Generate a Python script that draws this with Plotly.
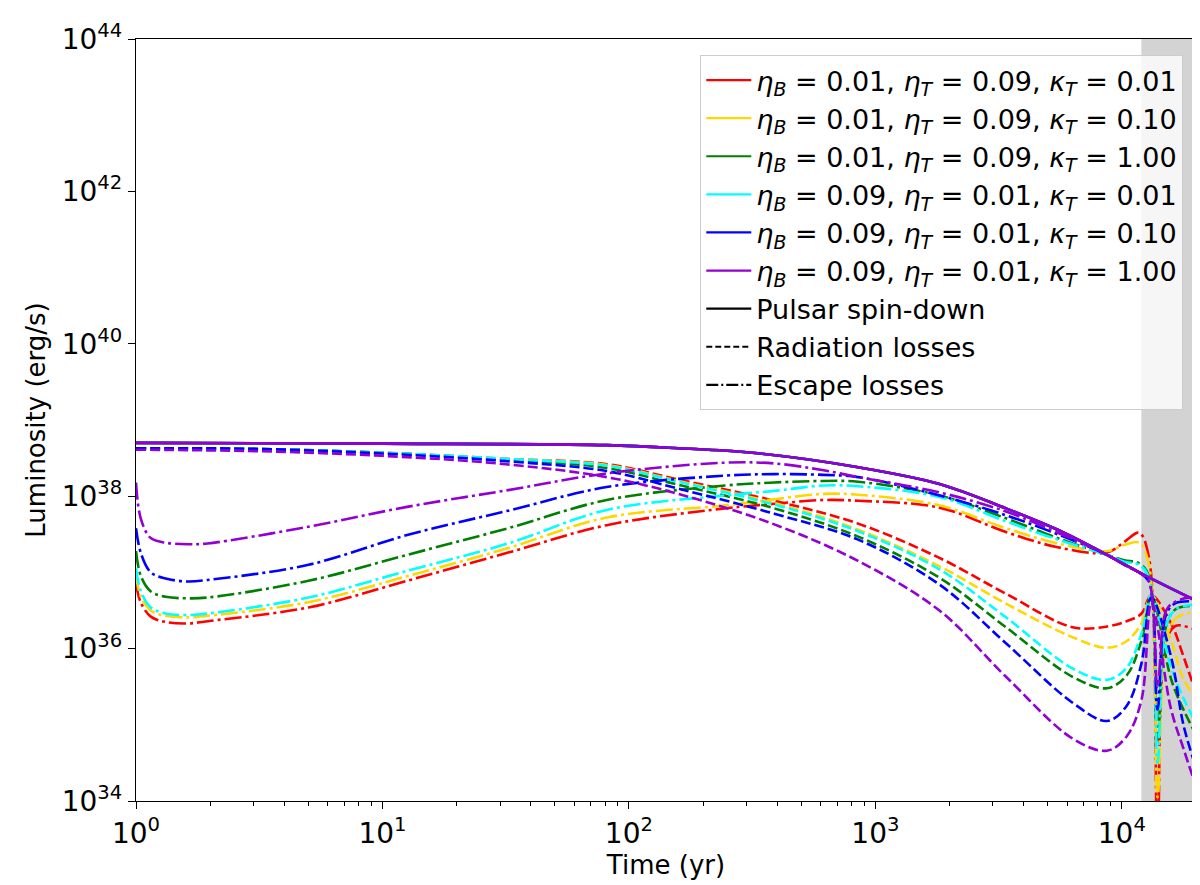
import numpy as np
import plotly.graph_objects as go

# colours of the six parameter sets (matplotlib names)
colors = ["red", "gold", "green", "cyan", "blue", "darkviolet"]
labels = [
    "<i>η</i><sub><i>B</i></sub> = 0.01, <i>η</i><sub><i>T</i></sub> = 0.09, <i>κ</i><sub><i>T</i></sub> = 0.01",
    "<i>η</i><sub><i>B</i></sub> = 0.01, <i>η</i><sub><i>T</i></sub> = 0.09, <i>κ</i><sub><i>T</i></sub> = 0.10",
    "<i>η</i><sub><i>B</i></sub> = 0.01, <i>η</i><sub><i>T</i></sub> = 0.09, <i>κ</i><sub><i>T</i></sub> = 1.00",
    "<i>η</i><sub><i>B</i></sub> = 0.09, <i>η</i><sub><i>T</i></sub> = 0.01, <i>κ</i><sub><i>T</i></sub> = 0.01",
    "<i>η</i><sub><i>B</i></sub> = 0.09, <i>η</i><sub><i>T</i></sub> = 0.01, <i>κ</i><sub><i>T</i></sub> = 0.10",
    "<i>η</i><sub><i>B</i></sub> = 0.09, <i>η</i><sub><i>T</i></sub> = 0.01, <i>κ</i><sub><i>T</i></sub> = 1.00",
]

# everything below is log10(time / yr) and log10(L / erg s^-1)

# pulsar spin-down (same for all runs)
logt_spin = [0, 1, 1.91, 2.2, 2.5, 2.93, 3.26, 3.53, 3.74, 3.94, 4.1, 4.3]
logL_spin = [38.70, 38.69, 38.67, 38.63, 38.57, 38.38, 38.16, 37.84, 37.56, 37.23, 36.95, 36.63]

# radiation losses (dashed)
logt_rad = [0, 0.5, 1, 1.5, 1.91, 2.2, 2.59, 2.93, 3.26, 3.53, 3.80, 3.94, 4.02, 4.08, 4.12, 4.20, 4.25, 4.30]
rad_red =    [38.63, 38.62, 38.57, 38.49, 38.42, 38.22, 37.94, 37.64, 37.19, 36.72, 36.28, 36.29, 36.36, 36.46, 36.70, 36.33, 35.90, 35.42]
rad_yellow = [38.63, 38.62, 38.57, 38.49, 38.41, 38.20, 37.91, 37.56, 37.08, 36.59, 36.15, 36.01, 36.10, 36.33, 36.70, 36.10, 35.60, 35.35]
rad_green =  [38.63, 38.62, 38.57, 38.48, 38.37, 38.15, 37.84, 37.47, 36.93, 36.28, 35.63, 35.48, 35.65, 36.11, 36.70, 35.60, 35.20, 34.88]
rad_cyan =   [38.63, 38.62, 38.57, 38.49, 38.40, 38.19, 37.89, 37.54, 37.04, 36.41, 35.74, 35.59, 35.75, 36.20, 36.70, 35.75, 35.35, 35.03]
rad_blue =   [38.63, 38.62, 38.56, 38.46, 38.33, 38.10, 37.77, 37.43, 36.84, 36.07, 35.29, 35.05, 35.25, 35.81, 36.67, 35.89, 35.00, 34.45]
rad_purple = [38.61, 38.59, 38.53, 38.42, 38.25, 38.03, 37.63, 37.15, 36.50, 35.63, 34.82, 34.66, 34.85, 35.33, 36.60, 35.20, 34.69, 34.20]

# escape losses (dash-dot)
logt_esc = [0, 0.02, 0.06, 0.12, 0.21, 0.29, 0.70, 1.10, 1.51, 1.91, 2.39, 2.59, 2.79, 2.93, 3.26, 3.53,
            3.74, 3.94, 4.01, 4.07, 4.11, 4.145, 4.18, 4.22, 4.299, 4.30]
esc_red =    [36.85, 36.60, 36.42, 36.35, 36.33, 36.36, 36.54, 36.89, 37.26, 37.62, 37.84, 37.90, 37.95, 37.94, 37.85, 37.53,
              37.33, 37.26, 37.40, 37.52, 37.20, 33.50, 36.10, 36.30, 36.25, 36.25]
esc_yellow = [36.98, 36.68, 36.50, 36.43, 36.41, 36.43, 36.61, 36.95, 37.32, 37.72, 37.88, 37.96, 38.03, 38.02, 37.88, 37.58,
              37.38, 37.28, 37.36, 37.39, 37.10, 34.05, 36.10, 36.40, 36.48, 36.48]
esc_green =  [37.28, 36.95, 36.75, 36.68, 36.66, 36.67, 36.89, 37.23, 37.58, 37.95, 38.14, 38.18, 38.20, 38.19, 38.01, 37.71,
              37.45, 37.23, 37.16, 37.12, 36.95, 34.80, 36.30, 36.52, 36.56, 36.56]
esc_cyan =   [37.06, 36.75, 36.54, 36.46, 36.44, 36.46, 36.67, 37.02, 37.38, 37.82, 38.01, 38.07, 38.14, 38.13, 37.99, 37.67,
              37.43, 37.23, 37.14, 37.10, 36.93, 34.50, 36.30, 36.52, 36.58, 36.58]
esc_blue =   [37.58, 37.25, 37.00, 36.92, 36.88, 36.90, 37.10, 37.49, 37.81, 38.12, 38.27, 38.29, 38.28, 38.25, 38.01, 37.75,
              37.50, 37.23, 37.10, 37.00, 36.88, 35.20, 36.45, 36.60, 36.62, 36.62]
esc_purple = [38.18, 37.70, 37.45, 37.39, 37.37, 37.38, 37.60, 37.86, 38.08, 38.30, 38.44, 38.43, 38.34, 38.25, 38.05, 37.80,
              37.52, 37.23, 37.10, 37.00, 36.88, 35.50, 36.50, 36.62, 36.64, 33.00]

rad_all = [rad_red, rad_yellow, rad_green, rad_cyan, rad_blue, rad_purple]
esc_all = [esc_red, esc_yellow, esc_green, esc_cyan, esc_blue, esc_purple]

# gray band (years)
band_start = 12000
band_end = 20000

DASH = "10px,4px"
DASHDOT = "17px,4px,3px,4px"
LW = 2.6

fig = go.Figure()

for i, c in enumerate(colors):
    fig.add_trace(go.Scatter(x=10 ** np.array(logt_spin), y=10 ** np.array(logL_spin), mode="lines",
                             line=dict(color=c, width=LW, shape="spline"), showlegend=False))
    fig.add_trace(go.Scatter(x=10 ** np.array(logt_rad), y=10 ** np.array(rad_all[i]), mode="lines",
                             line=dict(color=c, width=LW, dash=DASH, shape="spline"), showlegend=False))
    fig.add_trace(go.Scatter(x=10 ** np.array(logt_esc), y=10 ** np.array(esc_all[i]), mode="lines",
                             line=dict(color=c, width=LW, dash=DASHDOT, shape="spline"), showlegend=False))

# legend entries
for c, lab in zip(colors, labels):
    fig.add_trace(go.Scatter(x=[None], y=[None], mode="lines", name=lab, line=dict(color=c, width=2.2)))
fig.add_trace(go.Scatter(x=[None], y=[None], mode="lines", name="Pulsar spin-down",
                         line=dict(color="black", width=2.2)))
fig.add_trace(go.Scatter(x=[None], y=[None], mode="lines", name="Radiation losses",
                         line=dict(color="black", width=2.2, dash="6px,3px")))
fig.add_trace(go.Scatter(x=[None], y=[None], mode="lines", name="Escape losses",
                         line=dict(color="black", width=2.2, dash="12px,3px,2px,3px")))

fig.add_vrect(x0=band_start, x1=band_end, fillcolor="lightgray", opacity=1, line_width=0, layer="below")

xmajor = [1, 10, 100, 1000, 10000]
xminor = [m * 10 ** k for k in range(5) for m in range(2, 10) if m * 10 ** k < 20000]
ymajor = [34, 36, 38, 40, 42, 44]

fig.update_layout(
    width=1200, height=885,
    margin=dict(l=128, r=11, t=21, b=92),
    paper_bgcolor="white", plot_bgcolor="white",
    font=dict(family="DejaVu Sans", size=26, color="black"),
    legend=dict(x=0.988, y=0.979, xanchor="right", yanchor="top",
                bgcolor="rgba(255,255,255,0.8)", bordercolor="#cccccc", borderwidth=1,
                font=dict(size=27), tracegroupgap=0, itemwidth=45),
    xaxis=dict(type="log", range=[0, np.log10(band_end)], showgrid=False, zeroline=False,
               showline=True, linecolor="black", linewidth=1.3, mirror=True,
               ticks="outside", ticklen=7, tickwidth=1.3, tickcolor="black",
               tickvals=xmajor, ticktext=["10<sup>%d</sup>" % k for k in range(5)],
               tickfont=dict(size=28),
               minor=dict(tickvals=xminor, ticks="outside", ticklen=4, tickcolor="black", showgrid=False),
               title=dict(text="Time (yr)", font=dict(size=26), standoff=6)),
    yaxis=dict(type="log", range=[34, 44], showgrid=False, zeroline=False,
               showline=True, linecolor="black", linewidth=1.3, mirror=True,
               ticks="outside", ticklen=7, tickwidth=1.3, tickcolor="black",
               tickvals=[10.0 ** k for k in ymajor], ticktext=["10<sup>%d</sup>" % k for k in ymajor],
               tickfont=dict(size=28),
               title=dict(text="Luminosity (erg/s)", font=dict(size=26), standoff=8)),
)

fig.write_html("out.html")
